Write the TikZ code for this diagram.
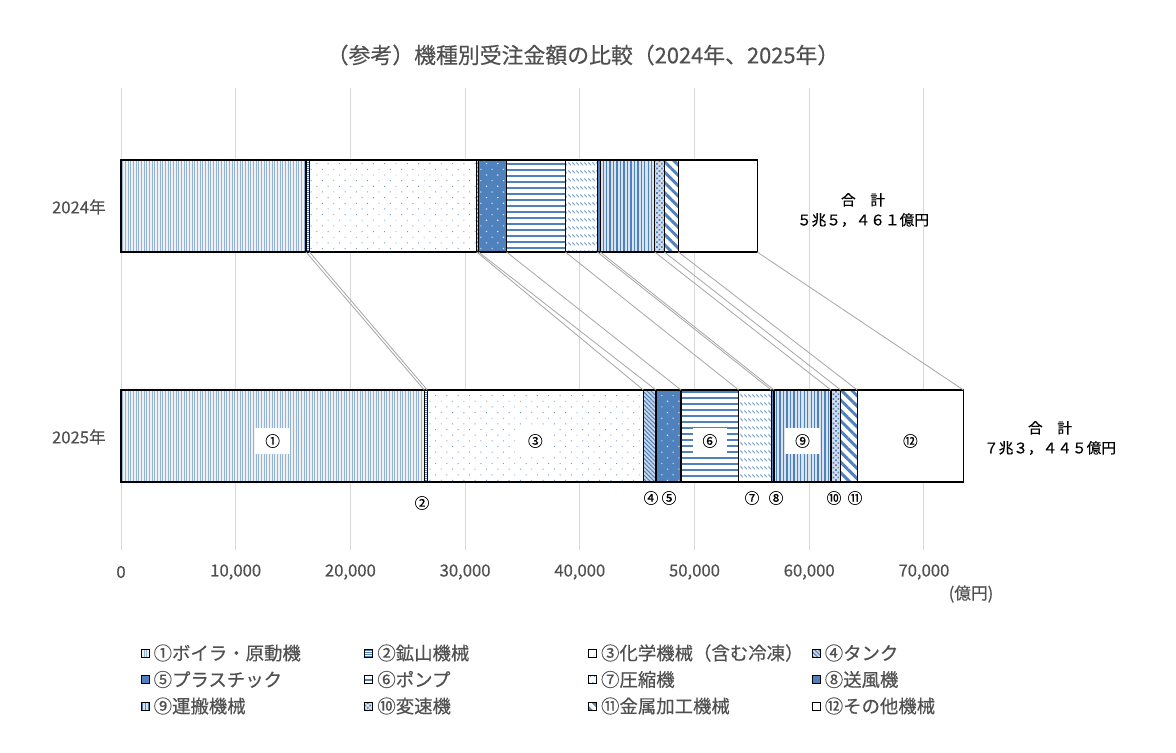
\documentclass[tikz,border=0pt]{standalone}
\usepackage{fontspec}
\setmainfont{Noto Sans CJK JP}[FakeBold=0.35]
\usetikzlibrary{patterns,patterns.meta}

\definecolor{blu}{RGB}{79,129,189}
\definecolor{testo}{RGB}{80,80,80}
\definecolor{griglia}{RGB}{217,217,217}
\definecolor{grigioserie}{RGB}{166,166,166}

% trattini obliqui
\pgfdeclarepatternformonly{trattini}{\pgfqpoint{0pt}{0pt}}{\pgfqpoint{3pt}{6pt}}{\pgfqpoint{3pt}{6pt}}{%
  \pgfsetlinewidth{0.9pt}%
  \pgfpathmoveto{\pgfqpoint{0.4pt}{4.6pt}}%
  \pgfpathlineto{\pgfqpoint{2.6pt}{2.4pt}}%
  \pgfusepath{stroke}}

\begin{document}
\begin{tikzpicture}[
    x=0.75pt, y=-0.75pt,
    every node/.style={text=testo, inner sep=0pt},
    assi/.style={font=\fontsize{12.5}{14}\selectfont},
    voce/.style={font=\fontsize{13.8}{15}\selectfont, anchor=west},
    etic/.style={text=black, font=\fontsize{11}{12}\selectfont},
    bianco/.style={etic, fill=white, minimum width=26pt, minimum height=20pt},
    totale/.style={text=black, align=center, font=\fontsize{11}{15}\selectfont},
    bordo/.style={draw=black, line width=0.9pt},
    serie/.style={draw=grigioserie, line width=0.6pt},
    seg1/.style={preaction={fill=blu!10!gray!12}, pattern={Lines[angle=90,distance=2pt,line width=0.4pt]}, pattern color=blu!60},
    seg2/.style={preaction={fill=white}, pattern={Lines[angle=0,distance=1.5pt,line width=0.6pt]}, pattern color=blu},
    seg3/.style={preaction={fill=white}, pattern={Dots[distance=6pt,angle=45,radius=0.5pt]}, pattern color=blu!80},
    seg4/.style={preaction={fill=blu!30}, pattern={Lines[angle=-45,distance=2.2pt,line width=0.8pt]}, pattern color=blu},
    seg5/.style={preaction={fill=blu}, pattern={Dots[distance=6pt,angle=45,radius=0.6pt]}, pattern color=blu!15},
    seg6/.style={preaction={fill=white}, pattern={Lines[angle=0,distance=4.5pt,line width=1.1pt]}, pattern color=blu},
    seg7/.style={preaction={fill=white}, pattern=trattini, pattern color=blu!70},
    seg8/.style={fill=blu},
    seg9/.style={preaction={fill=blu!22}, pattern={Lines[angle=90,distance=2.6pt,line width=1pt]}, pattern color=blu},
    seg10/.style={preaction={fill=blu!25}, pattern={Dots[distance=2.6pt,angle=45,radius=0.9pt]}, pattern color=blu},
    seg11/.style={preaction={fill=white}, pattern={Lines[angle=-45,distance=5.5pt,line width=2.2pt]}, pattern color=blu},
    seg12/.style={fill=white}
]
\path[fill=white, use as bounding box] (0,0) rectangle (1176,752);

% titolo
\node[font=\fontsize{16.4}{18}\selectfont] (titolo) at (583,55) {（参考）機種別受注金額の比較（2024年、2025年）};

\begin{scope}[shift={(121,0)}, xscale=114.7]
% griglia e asse
\foreach \v/\t in {0/0, 1/{10,000}, 2/{20,000}, 3/{30,000}, 4/{40,000}, 5/{50,000}, 6/{60,000}, 7/{70,000}} {
    \draw[griglia, line width=0.75pt] (\v,88) -- (\v,550);
    \node[assi] (x\v) at (\v,572) {\t};
}

% 2024
\foreach \q [count=\i, remember=\q as \p (initially 0)] in
    {1.6129, 1.6434, 3.1011, 3.1168, 3.3610, 3.8736, 4.1526, 4.1787, 4.6530, 4.7367, 4.8588, 5.5461} {
    \draw[bordo, seg\i] (\p,160) rectangle (\q,252);
    \coordinate (a\i) at (\q,252);
}

% 2025
\foreach \q [count=\i, remember=\q as \p (initially 0)] in
    {2.6443, 2.6705, 4.5536, 4.6643, 4.8823, 5.3854, 5.6696, 5.6931, 6.1900, 6.2746, 6.4194, 7.3445} {
    \draw[bordo, seg\i] (\p,390) rectangle (\q,482);
    \coordinate (b\i) at (\q,390);
    \coordinate (c\i) at ({(\p+\q)/2},441);
}
\end{scope}

% linee di serie
\foreach \i in {1,...,12}
    \draw[serie] (a\i) -- (b\i);

% etichette
\foreach \i/\n in {1/①, 3/③, 6/⑥, 9/⑨, 12/⑫}
    \node[bianco] (n\i) at (c\i) {\n};
\foreach \i/\n/\xx/\yy in {2/②/422/503, 4/④/651/498, 5/⑤/669/498, 7/⑦/752/498, 8/⑧/776/498, 10/⑩/834/498, 11/⑪/855/498}
    \node[etic] (n\i) at (\xx,\yy) {\n};

\node[assi, anchor=east] (anno1) at (106,207) {2024年};
\node[assi, anchor=east] (anno2) at (106,437) {2025年};
\node[assi] (unita) at (971,594) {(億円)};

\node[totale] (tot1) at (863,210) {合　計\\５兆５，４６１億円};
\node[totale] (tot2) at (1050,438) {合　計\\７兆３，４４５億円};

% legenda
\foreach \t [count=\i] in {①ボイラ・原動機, ②鉱山機械, ③化学機械（含む冷凍）, ④タンク,
        ⑤プラスチック, ⑥ポンプ, ⑦圧縮機, ⑧送風機,
        ⑨運搬機械, ⑩変速機, ⑪金属加工機械, ⑫その他機械} {
    \pgfmathtruncatemacro\col{mod(\i-1,4)}
    \pgfmathtruncatemacro\riga{div(\i-1,4)}
    \node[bordo, seg\i, line width=0.6pt, minimum size=6pt] (m\i) at ({145+223.7*\col},{653+26.5*\riga}) {};
    \node[voce] (v\i) at ([xshift=3pt]m\i.east) {\t};
}
\end{tikzpicture}
\end{document}
